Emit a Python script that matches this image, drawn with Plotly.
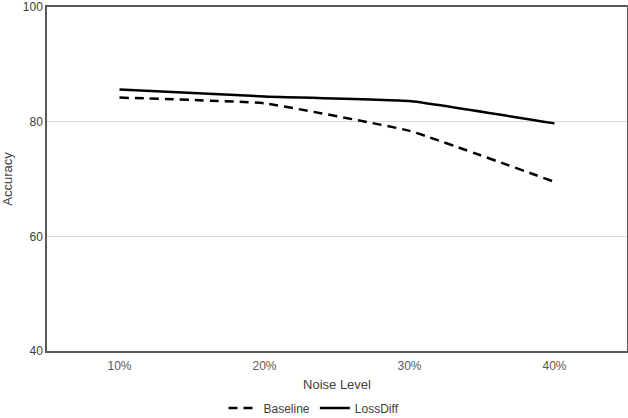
import plotly.graph_objects as go

noise_levels = ["10%", "20%", "30%", "40%"]
baseline = [84.2, 83.2, 78.4, 69.5]
lossdiff = [85.6, 84.4, 83.6, 79.7]
y_ticks = [40, 60, 80, 100]

fig = go.Figure()
fig.add_trace(go.Scatter(
    x=noise_levels, y=baseline, name="Baseline", mode="lines",
    line=dict(color="black", width=2.5, dash="9px,6px", shape="spline", smoothing=0.3),
))
fig.add_trace(go.Scatter(
    x=noise_levels, y=lossdiff, name="LossDiff", mode="lines",
    line=dict(color="black", width=2.5, shape="spline", smoothing=0.3),
))

font_family = "Liberation Sans, Arial, sans-serif"
fig.update_layout(
    width=628, height=418,
    margin=dict(l=47, r=1, t=7, b=67, autoexpand=False),
    paper_bgcolor="white", plot_bgcolor="white",
    font=dict(family=font_family, size=12, color="#404040"),
    showlegend=True,
    legend=dict(orientation="h", xref="container", x=0.5, xanchor="center",
                yref="container", y=0.024, yanchor="middle",
                font=dict(size=12, color="#404040"), tracegroupgap=0),
    xaxis=dict(
        title=dict(text="Noise Level", font=dict(size=13, color="#404040"), standoff=8),
        showline=True, linecolor="#595959", linewidth=1.5, mirror=True,
        showgrid=False, ticks="", tickfont=dict(size=12, color="#595959"),
        ticklabelstandoff=3, automargin=True,
        range=[-0.5, 3.5],
    ),
    yaxis=dict(
        title=dict(text="Accuracy", font=dict(size=13, color="#404040"), standoff=12),
        range=[40, 100], tickvals=y_ticks,
        showline=True, linecolor="#595959", linewidth=1.5, mirror=True,
        showgrid=True, gridcolor="#d9d9d9", gridwidth=1,
        ticks="", tickfont=dict(size=12, color="#404040"),
        ticklabeloverflow="allow",
        zeroline=False, automargin=True,
    ),
)

fig.write_html("out.html", config={"displayModeBar": False})

# remove the browser's default page margin so the figure sits at the window origin
with open("out.html", "r", encoding="utf-8") as f:
    html = f.read()
html = html.replace("<head>", "<head><style>html,body{margin:0;padding:0;}</style>", 1)
with open("out.html", "w", encoding="utf-8") as f:
    f.write(html)
